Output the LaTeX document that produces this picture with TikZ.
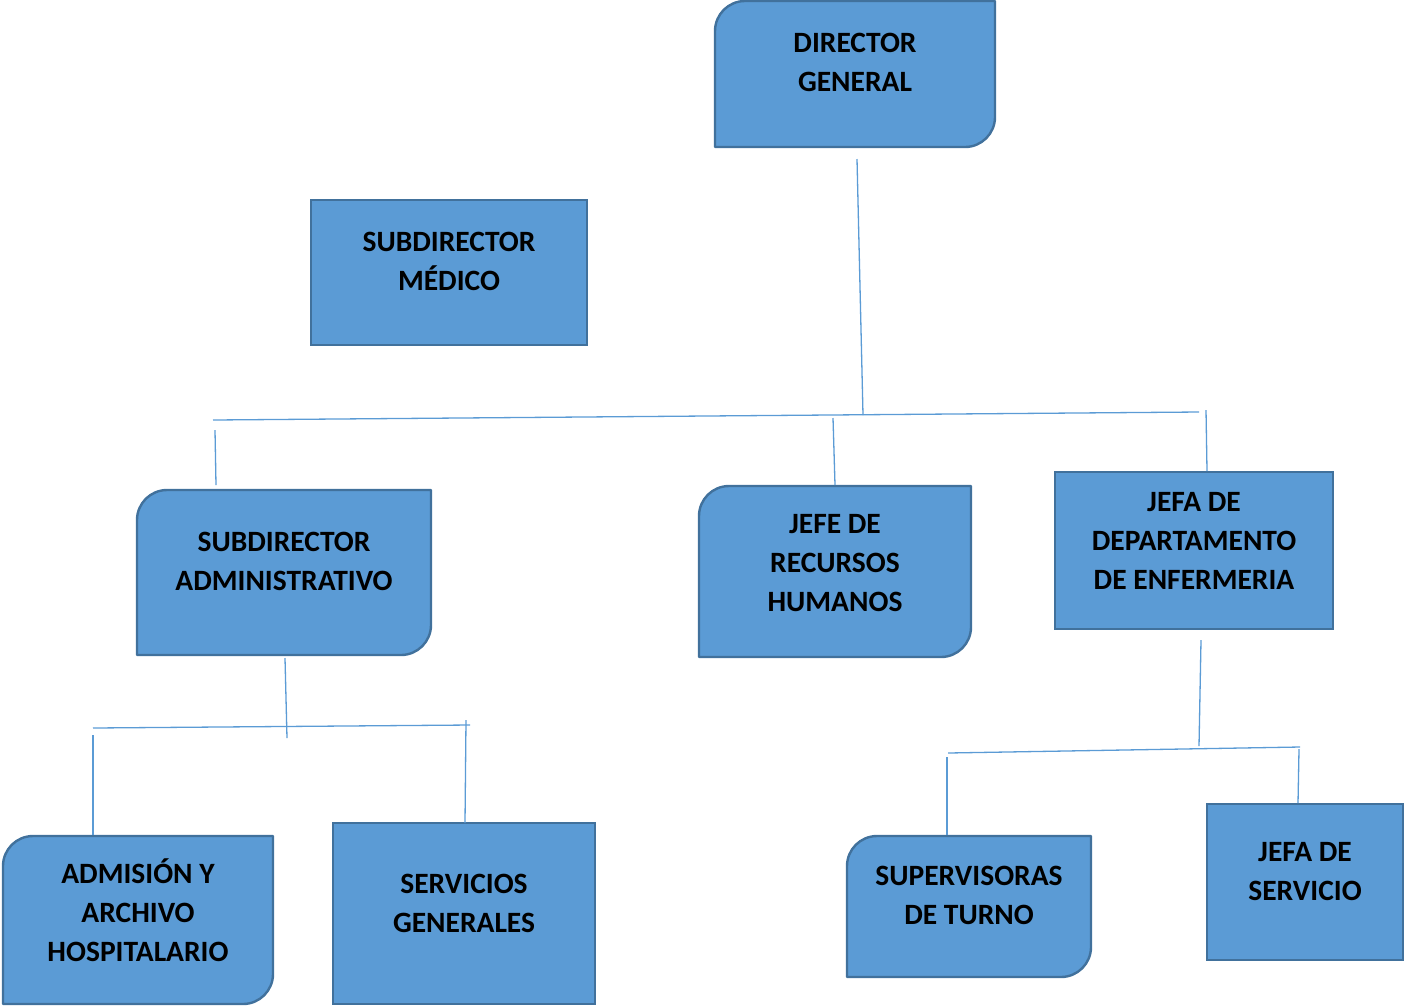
\documentclass[tikz,border=0pt]{standalone}
\usepackage{fontspec}
\setmainfont{Carlito}
\usetikzlibrary{calc}
\definecolor{boxfill}{HTML}{5B9BD5}
\definecolor{boxline}{HTML}{41719C}
\definecolor{conn}{HTML}{5B9BD5}
\tikzset{
  boxnode/.style={rectangle, inner sep=0pt, outer sep=0pt},
  plainbox/.style={boxnode, fill=boxfill, draw=boxline, line width=2.4pt},
  shapebox/.style={boxnode, draw=none, fill=none},
  boxpath/.style={fill=boxfill, draw=boxline, line width=2.4pt, line join=round},
  lbl/.style={align=center, inner sep=0pt, font=\fontsize{29.5}{39}\selectfont\bfseries},
  connector/.style={draw=conn, line width=1.3pt}
}
\newcommand\cornerbox[1]{%
  \path[boxpath] (#1.south west) -- ([yshift=-30pt]#1.north west)
    arc[start angle=180, end angle=90, radius=30pt] -- (#1.north east)
    -- ([yshift=30pt]#1.south east)
    arc[start angle=0, end angle=-90, radius=30pt] -- cycle;}
\begin{document}
\begin{tikzpicture}[x=1pt, y=-1pt]
\useasboundingbox (0,0) rectangle (1404,1005);
% boxes
\node[shapebox, minimum width=280pt, minimum height=146pt] (dg) at (855,74) {};
\cornerbox{dg}
\node[plainbox, minimum width=276pt, minimum height=145pt] (sm) at (449,272.5) {};
\node[shapebox, minimum width=294pt, minimum height=165pt] (sa) at (284,572.5) {};
\cornerbox{sa}
\node[shapebox, minimum width=272pt, minimum height=171pt] (rh) at (835,571.5) {};
\cornerbox{rh}
\node[plainbox, minimum width=278pt, minimum height=157pt] (de) at (1194,550.5) {};
\node[shapebox, minimum width=270pt, minimum height=168pt] (ad) at (138,920) {};
\cornerbox{ad}
\node[plainbox, minimum width=262pt, minimum height=181pt] (sg) at (464,913.5) {};
\node[shapebox, minimum width=244pt, minimum height=141pt] (st) at (969,906.5) {};
\cornerbox{st}
\node[plainbox, minimum width=196pt, minimum height=156pt] (js) at (1305,882) {};
% labels
\node[lbl] (dgt) at (855,62.5) {DIRECTOR\\GENERAL};
\node[lbl] (smt) at (449,261.5) {SUBDIRECTOR\\MÉDICO};
\node[lbl] (sat) at (284,561.5) {SUBDIRECTOR\\ADMINISTRATIVO};
\node[lbl] (rht) at (835,563) {JEFE DE\\RECURSOS\\HUMANOS};
\node[lbl] (det) at (1194,540.5) {JEFA DE\\DEPARTAMENTO\\DE ENFERMERIA};
\node[lbl] (adt) at (138,910.5) {ADMISIÓN Y\\ARCHIVO\\HOSPITALARIO};
\node[lbl] (sgt) at (464,903) {SERVICIOS\\GENERALES};
\node[lbl] (stt) at (969,895.5) {SUPERVISORAS\\DE TURNO};
\node[lbl] (jst) at (1305,871.5) {JEFA DE\\SERVICIO};
% junction coordinates
\coordinate (j1) at (863,415);
\coordinate (h1L) at (213,420);
\coordinate (h1R) at (1199,412);
\coordinate (h2L) at (93,728);
\coordinate (h2R) at (470,725);
\coordinate (h3L) at (948,753);
\coordinate (h3R) at (1300,747);
% connectors level 1
\draw[connector] ($(dg.south)+(2,12)$) -- (j1);
\draw[connector] (h1L) -- (h1R);
\draw[connector] ($(sa.north west)+(78,-60)$) -- ($(sa.north west)+(79,-5)$);
\draw[connector] ($(rh.north)+(-2,-68)$) -- ($(rh.north)+(0,-1)$);
\draw[connector] ($(de.north)+(12,-62)$) -- ($(de.north)+(13,-1)$);
% connectors under subdirector administrativo
\draw[connector] ($(sa.south)+(1,3)$) -- ($(sa.south)+(3,83)$);
\draw[connector] (h2L) -- (h2R);
\draw[connector] ($(ad.north west)+(90,-101)$) -- ($(ad.north west)+(90,-1)$);
\draw[connector] ($(sg.north)+(2,-103)$) -- ($(sg.north)+(1,0)$);
% connectors under jefa de departamento
\draw[connector] ($(de.south)+(7,11)$) -- ($(de.south)+(5,117)$);
\draw[connector] (h3L) -- (h3R);
\draw[connector] ($(st.north west)+(100,-79)$) -- ($(st.north west)+(100,-1)$);
\draw[connector] ($(js.north)+(-6,-55)$) -- ($(js.north)+(-7,-1)$);
\end{tikzpicture}
\end{document}
